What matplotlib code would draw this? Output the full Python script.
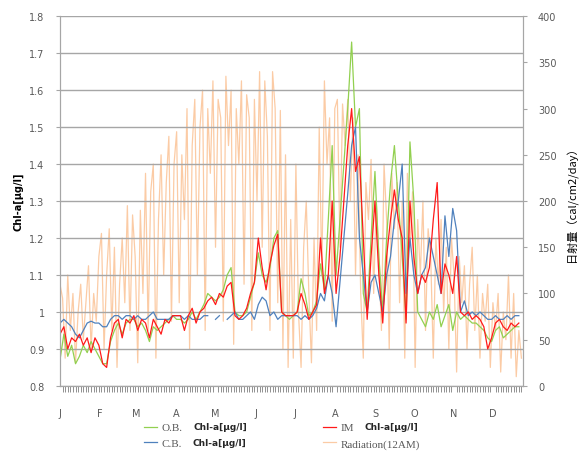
import numpy as np
import matplotlib
matplotlib.use("Agg")
import matplotlib.pyplot as plt
from matplotlib.ticker import FormatStrFormatter, MultipleLocator

plt.rcParams['font.family'] = ['DejaVu Sans', 'Noto Sans CJK JP']

# chlorophyll readings, every 3 days from 1 Jan
chl_days = np.arange(0, 357, 3)
ob_chl = [0.87, 0.94, 0.88, 0.91, 0.86, 0.88, 0.91, 0.89, 0.92, 0.90, 0.88, 0.86, 0.86, 0.92, 0.95, 0.97,
          0.94, 0.97, 0.98, 0.98, 0.96, 0.97, 0.95, 0.92, 0.96, 0.95, 0.96, 0.97, 0.98, 0.99, 0.98, 0.98,
          0.97, 0.98, 1.00, 0.98, 1.00, 1.02, 1.05, 1.04, 1.03, 1.04, 1.06, 1.10, 1.12, 1.00, 0.99, 0.99,
          1.00, 1.04, 1.08, 1.16, 1.10, 1.08, 1.12, 1.20, 1.22, 1.00, 0.99, 0.98, 0.99, 1.00, 1.09, 1.05,
          0.99, 1.00, 1.03, 1.13, 1.06, 1.25, 1.45, 1.10, 1.25, 1.40, 1.55, 1.73, 1.50, 1.55, 1.05, 1.00,
          1.20, 1.38, 1.15, 1.00, 1.20, 1.35, 1.45, 1.30, 1.15, 0.98, 1.46, 1.30, 1.00, 0.98, 0.96, 1.00,
          0.98, 1.02, 0.96, 0.99, 1.02, 0.95, 1.00, 0.98, 0.99, 0.98, 0.97, 0.97, 0.96, 0.95, 0.93, 0.92,
          0.95, 0.96, 0.93, 0.94, 0.95, 0.96, 0.96]
im_chl = [0.94, 0.96, 0.90, 0.93, 0.92, 0.94, 0.91, 0.93, 0.89, 0.93, 0.91, 0.86, 0.85, 0.93, 0.97, 0.98,
          0.93, 0.98, 0.97, 0.99, 0.95, 0.98, 0.97, 0.93, 0.98, 0.96, 0.94, 0.98, 0.97, 0.99, 0.99, 0.99,
          0.95, 0.99, 1.01, 0.97, 1.00, 1.01, 1.03, 1.04, 1.02, 1.05, 1.04, 1.07, 1.08, 0.99, 0.98, 0.99,
          1.01, 1.05, 1.08, 1.20, 1.12, 1.06, 1.13, 1.18, 1.21, 1.00, 0.99, 0.99, 0.99, 1.00, 1.05, 1.02,
          0.98, 1.00, 1.02, 1.20, 1.05, 1.10, 1.30, 1.05, 1.15, 1.30, 1.45, 1.55, 1.38, 1.42, 1.20, 0.98,
          1.15, 1.30, 1.10, 0.97, 1.15, 1.25, 1.33, 1.25, 1.20, 0.97, 1.30, 1.15, 1.05, 1.10, 1.08, 1.12,
          1.25, 1.35, 1.05, 1.13, 1.10, 1.05, 1.15, 1.00, 0.99, 1.00, 0.98, 0.99, 0.98, 0.96, 0.90, 0.93,
          0.97, 0.98, 0.96, 0.95, 0.97, 0.96, 0.97]
cb_chl = [0.97, 0.98, 0.97, 0.96, 0.94, 0.93, 0.95, 0.97, 0.975, 0.97, 0.97, 0.96, 0.96, 0.98, 0.99, 0.99,
          0.98, 0.99, 0.99, 0.98, 0.99, 0.98, 0.98, 0.99, 1.00, 0.98, 0.98, 0.98, 0.98, 0.99, 0.99, 0.99,
          0.98, 0.99, 0.98, 0.98, 0.98, 0.99, 0.99, np.nan, 0.98, 0.99, np.nan, 0.98, 0.99, 1.00, 0.98, 0.98,
          0.99, 1.00, 0.98, 1.02, 1.04, 1.03, 0.99, 1.00, 0.98, 0.99, 0.99, 0.99, 0.99, 0.99, 0.98, 0.99,
          0.98, 0.99, 1.01, 1.05, 1.03, 1.10, 1.05, 0.96, 1.08, 1.20, 1.32, 1.45, 1.50, 1.20, 1.10, 1.00,
          1.08, 1.10, 1.05, 1.00, 1.10, 1.15, 1.25, 1.30, 1.40, 1.05, 1.20, 1.10, 1.05, 1.10, 1.12, 1.20,
          1.15, 1.10, 1.05, 1.26, 1.15, 1.28, 1.22, 1.00, 1.03, 0.99, 1.00, 0.99, 1.00, 0.99, 0.98, 0.98,
          0.99, 0.98, 0.98, 0.99, 0.98, 0.99, 0.99]

# solar radiation at 12AM, every 2 days
rad_days = np.arange(0, 358, 2)
radiation = [110, 95, 30, 120, 60, 100, 25, 80, 110, 50, 90, 130, 40, 100, 70, 140,
             165, 40, 120, 170, 60, 150, 20, 110, 160, 90, 195, 60, 185, 140,
             25, 190, 100, 230, 60, 210, 240, 30, 180, 250, 120, 220, 270, 70, 240,
             275, 90, 250, 180, 300, 40, 260, 310, 120, 280, 320, 60, 300, 230, 330,
             150, 310, 290, 70, 335, 260, 320, 45, 300, 240, 330, 110, 315, 290, 60,
             310, 200, 340, 150, 330, 270, 60, 340, 300, 90, 298, 40, 250, 20, 180,
             30, 240, 80, 20, 150, 200, 100, 25, 160, 60, 280, 120, 330, 240, 290,
             70, 300, 310, 150, 305, 260, 310, 200, 290, 120, 250, 100, 30, 220, 180,
             245, 100, 200, 140, 60, 240, 180, 40, 230, 170, 220, 90, 200, 30, 230,
             150, 210, 20, 180, 120, 200, 60, 170, 140, 30, 160, 110, 180, 80, 150,
             40, 160, 120, 15, 140, 90, 130, 40, 110, 150, 60, 120, 30, 100, 70,
             110, 20, 90, 60, 100, 15, 80, 50, 120, 30, 100, 10, 60, 30]

month_starts = [0, 31, 59, 90, 120, 151, 181, 212, 243, 273, 304, 334]
month_labels = ['J', 'F', 'M', 'A', 'M', 'J', 'J', 'A', 'S', 'O', 'N', 'D']

fig = plt.figure(figsize=(5.88, 4.52), dpi=100)
ax = fig.add_axes([0.102, 0.144, 0.787, 0.818])
ax2 = ax.twinx()

grey = '#a6a6a6'
txt = '#595959'

l_rad, = ax2.plot(rad_days, radiation, color='#fbbf8f', lw=0.9, alpha=0.8,
                  label='Radiation(12AM)')
ax2.set_ylim(0, 400)
ax2.yaxis.set_major_locator(MultipleLocator(50))

l_ob, = ax.plot(chl_days, ob_chl, color='#92d050', lw=0.9, label='O.B.')
l_cb, = ax.plot(chl_days, cb_chl, color='#4f81bd', lw=0.9, label='C.B.')
l_im, = ax.plot(chl_days, im_chl, color='#ff1a1a', lw=0.9, label='IM')

# chlorophyll axes drawn above the radiation
ax.set_zorder(ax2.get_zorder() + 1)
ax.patch.set_visible(False)

ax.set_xlim(0, 357)
ax.set_ylim(0.8, 1.8)
ax.yaxis.set_major_locator(MultipleLocator(0.1))
ax.yaxis.set_major_formatter(FormatStrFormatter('%g'))
ax.grid(axis='y', color=grey, lw=1.0)
ax.set_axisbelow(True)

ax.set_xticks(month_starts)
ax.set_xticklabels(month_labels)
ax.xaxis.set_minor_locator(MultipleLocator(2))
ax.tick_params(axis='x', which='major', length=0, pad=16, labelsize=7, labelcolor=txt)
ax.tick_params(axis='x', which='minor', bottom=True, length=4, width=0.6, color='#7f7f7f',
               direction='out')
ax.tick_params(axis='y', length=3, color=grey, labelsize=7, labelcolor=txt, pad=8)
ax2.tick_params(axis='y', length=3, color=grey, labelsize=7, labelcolor=txt, pad=8)

for a in (ax, ax2):
    a.spines['top'].set_visible(False)
    for s in ('left', 'right', 'bottom'):
        a.spines[s].set_color(grey)

ax.set_ylabel('Chl-a[μg/l]', fontsize=7, fontweight='bold', labelpad=4)
ax2.set_ylabel('日射量（cal/cm2/day）', fontsize=8, rotation=90, labelpad=7,
               family=['Noto Sans CJK JP', 'DejaVu Sans'])

leg = fig.legend([l_ob, l_cb, l_im, l_rad], ['O.B.', 'C.B.', 'IM', 'Radiation(12AM)'],
                 ncol=2, loc='upper left', bbox_to_anchor=(0.235, 0.075), frameon=False,
                 prop={'family': 'Liberation Serif', 'size': 8}, handlelength=1.2,
                 handletextpad=0.4, columnspacing=12.6, labelspacing=0.55, borderpad=0)
for t in leg.get_texts():
    t.set_color('#595959')

# bold unit text after the station names
fig.canvas.draw()
inv = fig.transFigure.inverted()
for t in leg.get_texts()[:3]:
    bb = t.get_window_extent()
    x0, y0 = inv.transform((bb.x1 + 11, bb.y0 + 1))
    fig.text(x0, y0, 'Chl-a[μg/l]', fontsize=6.5, fontweight='bold', color='#262626',
             va='bottom')

fig.savefig('out.png', dpi=100)
